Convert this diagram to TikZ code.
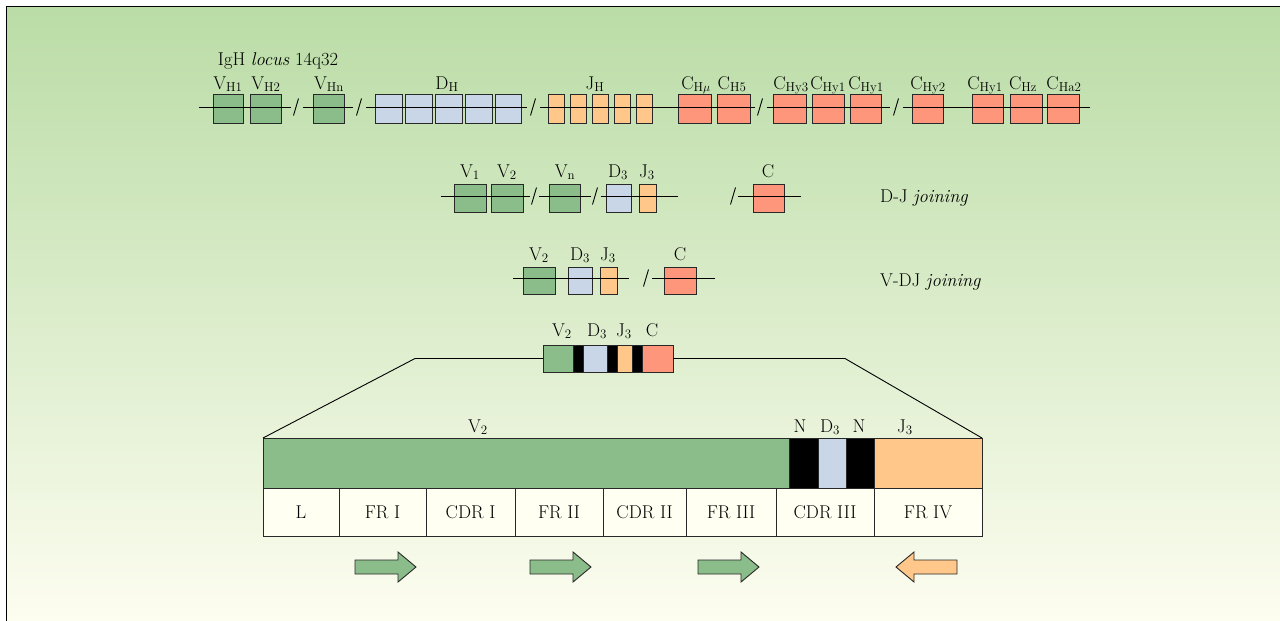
\documentclass[tikz,border=0pt]{standalone}
\usepackage{tikz}
\definecolor{bgtop}{RGB}{186,220,166}
\definecolor{bgbot}{RGB}{253,253,240}
\definecolor{vgreen}{RGB}{139,189,139}
\definecolor{dblue}{RGB}{200,214,232}
\definecolor{jorange}{RGB}{255,200,138}
\definecolor{cred}{RGB}{254,150,123}
\definecolor{cellbg}{RGB}{255,255,242}
\definecolor{edge}{RGB}{40,40,40}
\tikzset{
  gene/.style={draw=edge, line width=0.9pt, inner sep=0pt, outer sep=0pt},
  vbox/.style={gene, fill=vgreen},
  dbox/.style={gene, fill=dblue},
  jbox/.style={gene, fill=jorange},
  cbox/.style={gene, fill=cred},
  nbox/.style={gene, fill=black},
  cell/.style={gene, fill=cellbg, font=\fontsize{18.5}{22}\selectfont},
  lbl/.style={font=\fontsize{18.5}{22}\selectfont, inner sep=0pt, anchor=base},
  chrom/.style={line width=0.9pt, draw=black},
  brk/.style={line width=0.9pt, draw=black},
  arr/.style={line width=0.9pt, draw=edge, line join=miter},
}
\newcommand\gbox[6]{\node[#1, minimum width={#4-#3}, minimum height={#6-#5}] (#2) at ({(#3+#4)/2},{(#5+#6)/2}) {};}
\newcommand\gcell[6]{\node[cell, minimum width={#3-#2}, minimum height={#5-#4}] (#1) at ({(#2+#3)/2},{(#4+#5)/2}) {#6};}
\newcommand\brkmark[2]{\draw[brk] (#1-2.5,#2+8.5) -- (#1+2.5,#2-8.5);}
\begin{document}
\begin{tikzpicture}[x=1pt,y=-1pt]
\useasboundingbox (0,0) rectangle (1280,621);
\fill[white] (0,0) rectangle (1280,621);
\shade[top color=bgtop,bottom color=bgbot] (6.5,6.5) rectangle (1280,621);
\draw[line width=1.6pt, black] (6.5,621) -- (6.5,6.5) -- (1280,6.5);

% ---------- Row 1: germline locus ----------
\gbox{vbox}{vh1}{213}{243}{94}{123}
\gbox{vbox}{vh2}{250}{281}{94}{123}
\gbox{vbox}{vhn}{313}{344}{94}{123}
\gbox{dbox}{d1}{375}{402}{94}{123}
\gbox{dbox}{d2}{405}{432}{94}{123}
\gbox{dbox}{d3}{435}{462}{94}{123}
\gbox{dbox}{d4}{465}{492}{94}{123}
\gbox{dbox}{d5}{495}{521}{94}{123}
\gbox{jbox}{j1}{548}{564}{94}{123}
\gbox{jbox}{j2}{570}{586}{94}{123}
\gbox{jbox}{j3}{592}{608}{94}{123}
\gbox{jbox}{j4}{614}{630}{94}{123}
\gbox{jbox}{j5}{636}{652}{94}{123}
\gbox{cbox}{cm}{678}{711}{94}{123}
\gbox{cbox}{c5}{717}{750}{94}{123}
\gbox{cbox}{cy3}{773}{806}{94}{123}
\gbox{cbox}{cy1a}{812}{844}{94}{123}
\gbox{cbox}{cy1b}{850}{881}{94}{123}
\gbox{cbox}{cy2}{912}{943}{94}{123}
\gbox{cbox}{cy1c}{972}{1003}{94}{123}
\gbox{cbox}{cz}{1010}{1042}{94}{123}
\gbox{cbox}{ca2}{1047}{1079}{94}{123}

\coordinate (a1) at (199,107); \coordinate (a2) at (291,107);
\coordinate (a3) at (303,107); \coordinate (a4) at (353,107);
\coordinate (a5) at (366,107); \coordinate (a6) at (527,107);
\coordinate (a7) at (540,107); \coordinate (a8) at (755,107);
\coordinate (a9) at (767,107); \coordinate (a10) at (890,107);
\coordinate (a11) at (903,107); \coordinate (a12) at (1090,107);
\draw[chrom] (a1) -- (a2); \draw[chrom] (a3) -- (a4);
\draw[chrom] (a5) -- (a6); \draw[chrom] (a7) -- (a8);
\draw[chrom] (a9) -- (a10); \draw[chrom] (a11) -- (a12);
\brkmark{296}{107} \brkmark{359}{107} \brkmark{533}{107} \brkmark{760}{107} \brkmark{896}{107}

\node[lbl] (tlocus) at (278,65) {IgH \textit{locus} 14q32};
\node[lbl] (tvh1) at (228,89) {V\textsubscript{H1}};
\node[lbl] (tvh2) at (266,89) {V\textsubscript{H2}};
\node[lbl] (tvhn) at (329,89) {V\textsubscript{Hn}};
\node[lbl] (tdh) at (447,89) {D\textsubscript{H}};
\node[lbl] (tjh) at (595,89) {J\textsubscript{H}};
\node[lbl] (tcm) at (696,89) {C\textsubscript{H$\mu$}};
\node[lbl] (tc5) at (732,89) {C\textsubscript{H5}};
\node[lbl] (tcy3) at (791,89) {C\textsubscript{Hy3}};
\node[lbl] (tcy1a) at (828,89) {C\textsubscript{Hy1}};
\node[lbl] (tcy1b) at (866,89) {C\textsubscript{Hy1}};
\node[lbl] (tcy2) at (928,89) {C\textsubscript{Hy2}};
\node[lbl] (tcy1c) at (985,89) {C\textsubscript{Hy1}};
\node[lbl] (tcz) at (1023,89) {C\textsubscript{Hz}};
\node[lbl] (tca2) at (1064,89) {C\textsubscript{Ha2}};

% ---------- Row 2: D-J joining ----------
\gbox{vbox}{bv1}{454}{486}{184}{212}
\gbox{vbox}{bv2}{491}{523}{184}{212}
\gbox{vbox}{bvn}{549}{580}{184}{212}
\gbox{dbox}{bd3}{606}{631}{184}{212}
\gbox{jbox}{bj3}{639}{656}{184}{212}
\gbox{cbox}{bc}{753}{784}{184}{212}
\coordinate (b1) at (441,196); \coordinate (b2) at (530,196);
\coordinate (b3) at (539,196); \coordinate (b4) at (591,196);
\coordinate (b5) at (601,196); \coordinate (b6) at (678,196);
\coordinate (b7) at (738,196); \coordinate (b8) at (801,196);
\draw[chrom] (b1) -- (b2); \draw[chrom] (b3) -- (b4);
\draw[chrom] (b5) -- (b6); \draw[chrom] (b7) -- (b8);
\brkmark{534}{196} \brkmark{595}{196} \brkmark{733}{196}
\node[lbl] (tbv1) at (470,177) {V\textsubscript{1}};
\node[lbl] (tbv2) at (507,177) {V\textsubscript{2}};
\node[lbl] (tbvn) at (565,177) {V\textsubscript{n}};
\node[lbl] (tbd3) at (618,177) {D\textsubscript{3}};
\node[lbl] (tbj3) at (647,177) {J\textsubscript{3}};
\node[lbl] (tbc) at (768,177) {C};
\node[lbl, anchor=base west] (tdj) at (880,202) {D-J \textit{joining}};

% ---------- Row 3: V-DJ joining ----------
\gbox{vbox}{cv2}{523}{555}{267}{294}
\gbox{dbox}{cd3}{568}{592}{267}{294}
\gbox{jbox}{cj3}{600}{617}{267}{294}
\gbox{cbox}{cc}{664}{696}{267}{294}
\coordinate (c1) at (513,278); \coordinate (c2) at (629,278);
\coordinate (c3) at (652,278); \coordinate (c4) at (715,278);
\draw[chrom] (c1) -- (c2); \draw[chrom] (c3) -- (c4);
\brkmark{646}{278}
\node[lbl] (tcv2) at (539,260) {V\textsubscript{2}};
\node[lbl] (tcd3) at (580,260) {D\textsubscript{3}};
\node[lbl] (tcj3) at (608,260) {J\textsubscript{3}};
\node[lbl] (tcc) at (680,260) {C};
\node[lbl, anchor=base west] (tvdj) at (880,286) {V-DJ \textit{joining}};

% ---------- Row 4: rearranged gene ----------
\gbox{vbox}{rv}{543}{573}{345}{372}
\gbox{nbox}{rn1}{573}{583}{345}{372}
\gbox{dbox}{rd}{583}{607}{345}{372}
\gbox{nbox}{rn2}{607}{617}{345}{372}
\gbox{jbox}{rj}{617}{632}{345}{372}
\gbox{nbox}{rn3}{632}{642}{345}{372}
\gbox{cbox}{rc}{642}{673}{345}{372}
\draw[gene] (rv.north west) rectangle (rc.south east);
\node[lbl] (trv) at (562,336) {V\textsubscript{2}};
\node[lbl] (trd) at (597,336) {D\textsubscript{3}};
\node[lbl] (trj) at (624,336) {J\textsubscript{3}};
\node[lbl] (trc) at (652,336) {C};

% ---------- Expanded V region ----------
\gbox{vbox}{xv}{263}{789}{438}{488}
\gbox{nbox}{xn1}{789}{818}{438}{488}
\gbox{dbox}{xd}{818}{846}{438}{488}
\gbox{nbox}{xn2}{846}{874}{438}{488}
\gbox{jbox}{xj}{874}{982}{438}{488}
\node[lbl] (txv) at (478,432) {V\textsubscript{2}};
\node[lbl] (txn1) at (800,432) {N};
\node[lbl] (txd) at (830,432) {D\textsubscript{3}};
\node[lbl] (txn2) at (859,432) {N};
\node[lbl] (txj) at (905,432) {J\textsubscript{3}};

\coordinate (kL) at (415,358.5);
\coordinate (kR) at (845,358.5);
\draw[chrom] (xv.north west) -- (kL) -- (rv.west);
\draw[chrom] (rc.east) -- (kR) -- (xj.north east);

\gcell{tl}{263}{339}{488}{536}{L}
\gcell{tfr1}{339}{426}{488}{536}{FR I}
\gcell{tcdr1}{426}{515}{488}{536}{CDR I}
\gcell{tfr2}{515}{603}{488}{536}{FR II}
\gcell{tcdr2}{603}{686}{488}{536}{CDR II}
\gcell{tfr3}{686}{776}{488}{536}{FR III}
\gcell{tcdr3}{776}{874}{488}{536}{CDR III}
\gcell{tfr4}{874}{982}{488}{536}{FR IV}

% ---------- Primer arrows ----------
\draw[arr, fill=vgreen] (355,560) -- (398,560) -- (398,552) -- (416,567) -- (398,582) -- (398,574) -- (355,574) -- cycle;
\draw[arr, fill=vgreen] (530,560) -- (573,560) -- (573,552) -- (591,567) -- (573,582) -- (573,574) -- (530,574) -- cycle;
\draw[arr, fill=vgreen] (698,560) -- (741,560) -- (741,552) -- (759,567) -- (741,582) -- (741,574) -- (698,574) -- cycle;
\draw[arr, fill=jorange] (957,560) -- (914,560) -- (914,552) -- (896,567) -- (914,582) -- (914,574) -- (957,574) -- cycle;
\end{tikzpicture}
\end{document}
